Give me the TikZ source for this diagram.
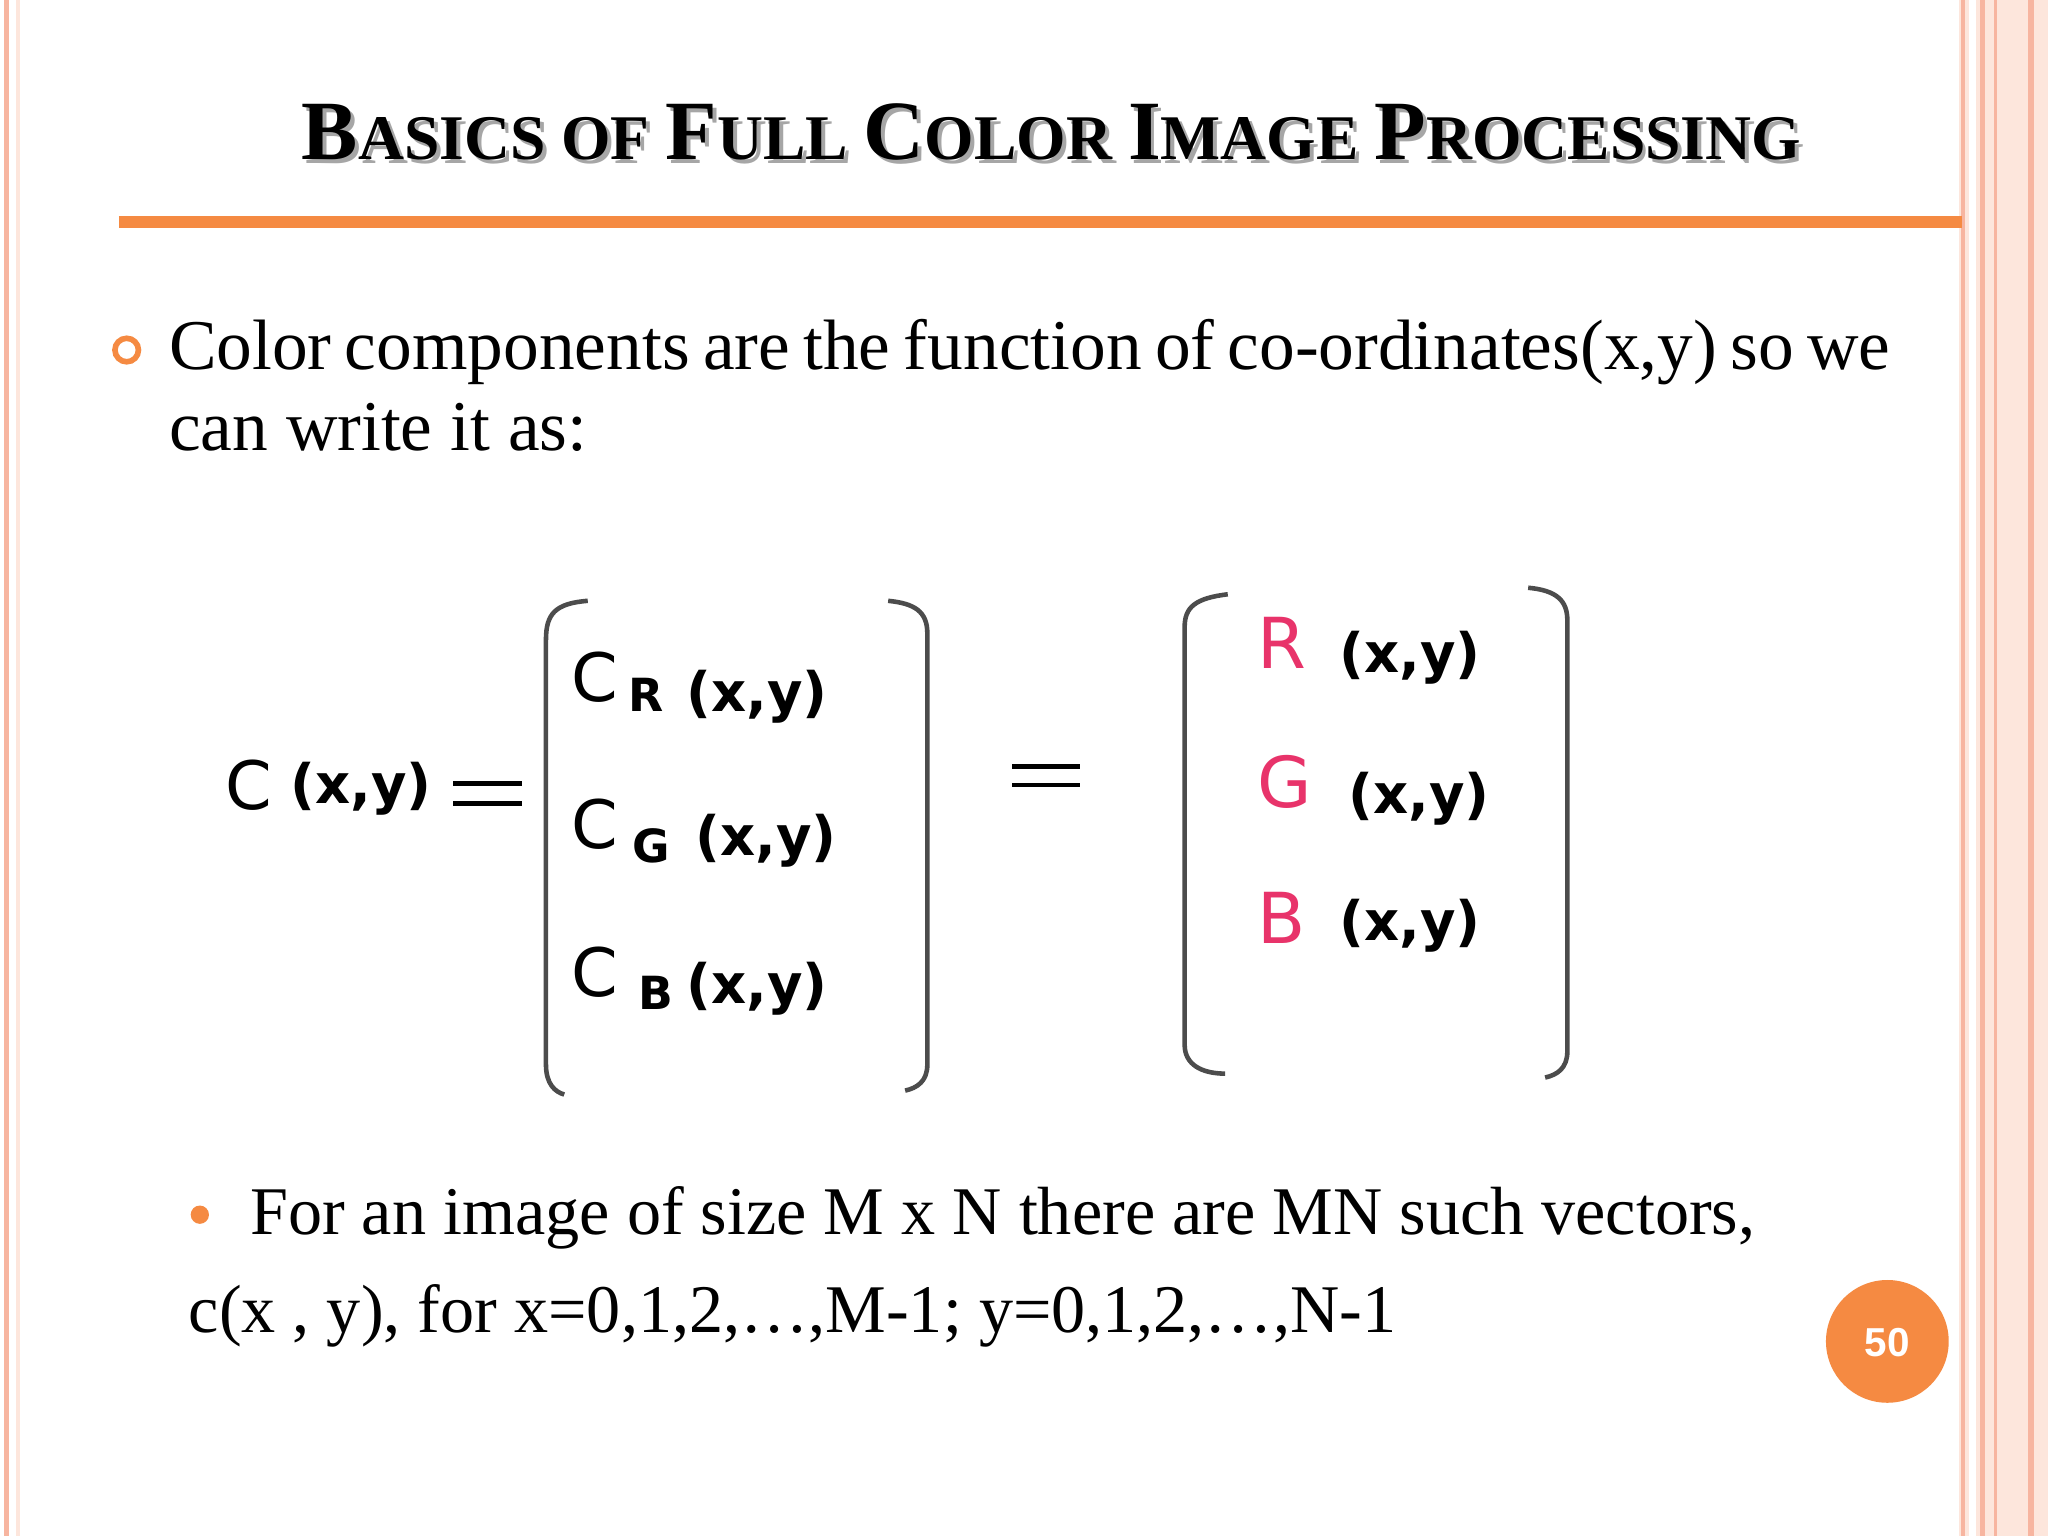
\documentclass[tikz,border=0pt]{standalone}
\usepackage{fontspec}
\setmainfont{Liberation Serif}
\newfontfamily\eqf{DejaVu Sans}
\newfontfamily\numf{Liberation Sans}
\definecolor{org}{HTML}{F58A42}
\definecolor{pk}{HTML}{E8336A}
\definecolor{brd}{HTML}{F7B5A0}
\definecolor{brdl}{HTML}{FDE6DC}
\newcommand{\bigL}{\fontsize{24}{28}\selectfont}
\newcommand{\smL}{\fontsize{18.1}{21}\selectfont}
\newcommand{\ttl}{\bfseries\bigL B\smL ASICS OF \bigL F\smL ULL \bigL C\smL OLOR \bigL I\smL MAGE \bigL P\smL ROCESSING}
\newcommand{\xy}{{\eqf\bfseries\fontsize{15.5}{17}\selectfont (x,y)}}
\begin{document}
\begin{tikzpicture}[x=0.01306cm,y=-0.01306cm,
  brk/.style={draw=black!70,line width=1.3pt},
  tx/.style={anchor=base west,inner sep=0pt},
  bigc/.style={tx,font=\eqf\fontsize{19}{22}\selectfont},
  sub/.style={tx,font=\eqf\bfseries\fontsize{13}{15}\selectfont},
  rgb/.style={tx,text=pk,font=\eqf\fontsize{20}{24}\selectfont}]
\fill[white] (0,0) rectangle (1568,1176);
\useasboundingbox (0,0) rectangle (1568,1176);
% borders
\draw[brd,line width=1.2pt] (5,0) -- (5,1176);
\draw[brdl,line width=1.2pt] (14,0) -- (14,1176);
\fill[brdl] (1500,0) rectangle (1568,1176);
\draw[brd,line width=1.2pt] (1503,0) -- (1503,1176);
\draw[white,line width=2pt] (1510,0) -- (1510,1176);
\draw[brd,line width=1.5pt] (1518,0) -- (1518,1176);
\draw[brd,line width=0.8pt] (1528,0) -- (1528,1176);
\draw[brd,line width=1.5pt] (1555,0) -- (1555,1176);
% title
\node[tx,anchor=base,text=black!35] (tsh) at (808,125) {\ttl};
\node[tx,anchor=base] (title) at (805,122) {\ttl};
\draw[org,line width=3.6pt] (91,170) -- (1502,170);
% first bullet
\draw[org,line width=1.6pt] (97,268) circle (9);
\node[tx] (p1) at (129,283) {\fontsize{20.3}{24}\selectfont\makebox[17.21cm][l]{Color\hfill components\hfill are\hfill the\hfill function\hfill of\hfill co-ordinates(x,y)\hfill so\hfill we}};
\node[tx] (p2) at (129,345) {\fontsize{20.3}{24}\selectfont can write it as:};
% equation
\node[bigc] (c0) at (172,620) {C};
\node[tx] (c0xy) at (222,615) {\xy};
\draw[line width=1.3pt] (347,600) -- (400,600) (347,615) -- (400,615);
\draw[brk] (450,460) .. controls (425,462) and (418,470) .. (418,490) -- (418,815) .. controls (418,830) and (425,836) .. (432,838);
\draw[brk] (680,460) .. controls (700,462) and (710,468) .. (710,485) -- (710,815) .. controls (710,828) and (702,833) .. (693,835);
\node[bigc] (cr) at (437,537) {C};
\node[sub] (r) at (481,545) {R};
\node[tx] (crxy) at (525,545) {\xy};
\node[bigc] (cg) at (437,650) {C};
\node[sub] (g) at (484,660) {G};
\node[tx] (cgxy) at (532,655) {\xy};
\node[bigc] (cb) at (437,763) {C};
\node[sub] (b) at (488,773) {B};
\node[tx] (cbxy) at (525,768) {\xy};
\draw[line width=1.3pt] (775,587) -- (827,587) (775,601) -- (827,601);
\draw[brk] (940,455) .. controls (915,458) and (907,465) .. (907,480) -- (907,800) .. controls (907,815) and (920,822) .. (938,822);
\draw[brk] (1170,450) .. controls (1192,452) and (1200,460) .. (1200,475) -- (1200,805) .. controls (1200,818) and (1192,823) .. (1183,825);
\node[rgb] (R) at (962,512) {R};
\node[tx] (Rxy) at (1025,515) {\xy};
\node[rgb] (G) at (962,618) {G};
\node[tx] (Gxy) at (1032,623) {\xy};
\node[rgb] (B) at (962,722) {B};
\node[tx] (Bxy) at (1025,720) {\xy};
% second bullet
\fill[org] (153,930) circle (7);
\node[tx] (q1) at (191,945) {\fontsize{19.4}{23}\selectfont For an image of size M x N there are MN such vectors,};
\node[tx] (q2) at (144,1020) {\fontsize{19.4}{23}\selectfont c(x , y), for x=0,1,2,…,M-1; y=0,1,2,…,N-1};
% page number
\fill[org] (1445,1027) circle (47);
\node[text=white,font=\numf\bfseries\fontsize{11.5}{13}\selectfont] (pg) at (1445,1028) {50};
\end{tikzpicture}
\end{document}
